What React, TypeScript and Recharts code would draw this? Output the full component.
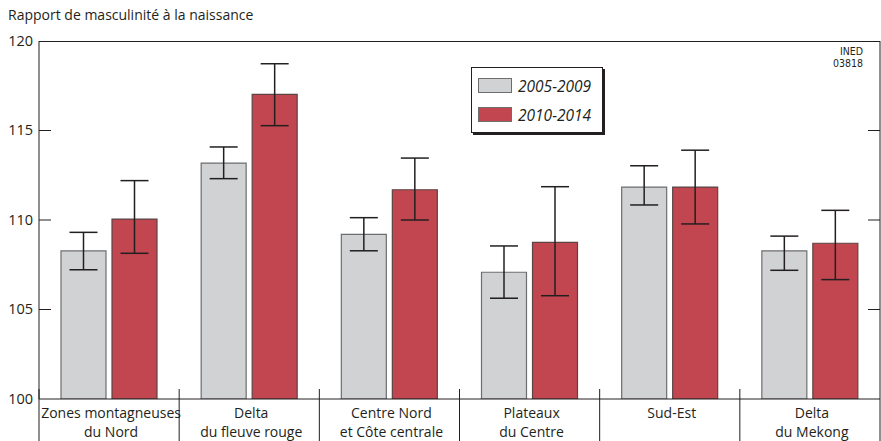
import React from "react"
import { Bar, BarChart, ErrorBar, XAxis, YAxis } from "recharts"

// regions (two-line labels)
const categories = [
  "Zones montagneuses\ndu Nord",
  "Delta\ndu fleuve rouge",
  "Centre Nord\net Côte centrale",
  "Plateaux\ndu Centre",
  "Sud-Est",
  "Delta\ndu Mekong",
]

// 2005-2009
const p1Values = [108.27, 113.18, 109.2, 107.08, 111.84, 108.28]
const p1Low = [107.22, 112.31, 108.28, 105.63, 110.84, 107.19]
const p1High = [109.31, 114.08, 110.13, 108.55, 113.03, 109.1]

// 2010-2014
const p2Values = [110.05, 117.02, 111.69, 108.75, 111.84, 108.7]
const p2Low = [108.14, 115.27, 110.0, 105.77, 109.78, 106.67]
const p2High = [112.2, 118.73, 113.46, 111.86, 113.9, 110.54]

const yTicks = [100, 105, 110, 115, 120]
const seriesNames = ["2005-2009", "2010-2014"]

const W = 881
const H = 441
const LEFT = 39
const RIGHT = 880
const TOP = 41
const BOTTOM = 399
const BAND = (RIGHT - LEFT) / categories.length

const GREY = "#d1d2d4"
const RED = "#c1464f"
const INK = "#231f20"
const FONT = "'Open Sans', sans-serif"

const data = categories.map((name, i) => ({
  name,
  p1: p1Values[i],
  p1Err: [p1Values[i] - p1Low[i], p1High[i] - p1Values[i]],
  p2: p2Values[i],
  p2Err: [p2Values[i] - p2Low[i], p2High[i] - p2Values[i]],
}))

function YTick(props: any) {
  const { y, payload } = props
  const v = payload.value
  const inner = v !== 100 && v !== 120
  return (
    <g>
      <text x={LEFT - 6} y={y - 1} textAnchor="end" dominantBaseline="central" fontSize={14.5} fill={INK} fontFamily={FONT}>
        {v}
      </text>
      {inner && <line x1={LEFT} x2={LEFT + 12} y1={y} y2={y} stroke={INK} strokeWidth={1} />}
      {inner && <line x1={RIGHT - 12} x2={RIGHT} y1={y} y2={y} stroke={INK} strokeWidth={1} />}
    </g>
  )
}

function XTick(props: any) {
  const { x, payload, index } = props
  const lines = String(payload.value).split("\n")
  const last = index === categories.length - 1
  return (
    <g>
      <line x1={x - BAND / 2} x2={x - BAND / 2} y1={BOTTOM - 10} y2={H} stroke={INK} strokeWidth={1} />
      {last && <line x1={x + BAND / 2} x2={x + BAND / 2} y1={TOP} y2={H} stroke={INK} strokeWidth={1} />}
      <text textAnchor="middle" fontSize={14} fill={INK} fontFamily={FONT}>
        {lines.map((l, k) => (
          <tspan key={k} x={x + 2} y={BOTTOM + 19 + k * 19}>
            {l}
          </tspan>
        ))}
      </text>
    </g>
  )
}

export default function App() {
  return (
    <div style={{ position: "absolute", left: 0, top: 0, width: W, height: H, background: "#fff", fontFamily: FONT }}>
      <div style={{ position: "absolute", left: 8, top: 5, fontSize: 14, color: INK, whiteSpace: "nowrap" }}>
        Rapport de masculinité à la naissance
      </div>
      <div style={{ position: "absolute", left: LEFT, top: TOP, width: RIGHT - LEFT, height: 0, borderTop: `1px solid ${INK}` }} />
      <div
        style={{
          position: "absolute",
          right: W - 863,
          top: 45,
          fontSize: 10.5,
          lineHeight: "12px",
          textAlign: "right",
          color: INK,
          fontFamily: "'DejaVu Sans Condensed', 'DejaVu Sans', sans-serif",
        }}
      >
        INED
        <br />
        03818
      </div>
      <BarChart
        width={W}
        height={H}
        data={data}
        margin={{ top: TOP, right: W - RIGHT, bottom: 0, left: 0 }}
        barSize={45}
        barGap={6}
      >
        <XAxis
          dataKey="name"
          height={H - BOTTOM}
          tickLine={false}
          axisLine={{ stroke: INK, strokeWidth: 1 }}
          tick={<XTick />}
          interval={0}
        />
        <YAxis
          width={LEFT}
          domain={[100, 120]}
          ticks={yTicks}
          tickLine={false}
          axisLine={{ stroke: INK, strokeWidth: 1 }}
          tick={<YTick />}
          allowDataOverflow
        />
        <Bar dataKey="p1" name={seriesNames[0]} fill={GREY} stroke="#6d6e70" strokeWidth={1.2} isAnimationActive={false}>
          <ErrorBar dataKey="p1Err" width={14} stroke={INK} strokeWidth={1.5} direction="y" />
        </Bar>
        <Bar dataKey="p2" name={seriesNames[1]} fill={RED} stroke="#5b4446" strokeWidth={1.2} isAnimationActive={false}>
          <ErrorBar dataKey="p2Err" width={14} stroke={INK} strokeWidth={1.5} direction="y" />
        </Bar>
      </BarChart>
      <div
        style={{
          position: "absolute",
          left: 471,
          top: 67,
          width: 130,
          height: 64,
          border: `1px solid ${INK}`,
          boxShadow: `2px 2px 0 ${INK}`,
          background: "#fff",
        }}
      >
        {[GREY, RED].map((c, i) => (
          <div key={i} style={{ position: "absolute", left: 6, top: 10 + i * 29, display: "flex", alignItems: "center" }}>
            <div style={{ width: 32, height: 13, background: c, border: "1px solid #6d6e70" }} />
            <span style={{ marginLeft: 6, fontSize: 15.5, fontStyle: "italic", color: INK, lineHeight: "14px" }}>
              {seriesNames[i]}
            </span>
          </div>
        ))}
      </div>
    </div>
  )
}
